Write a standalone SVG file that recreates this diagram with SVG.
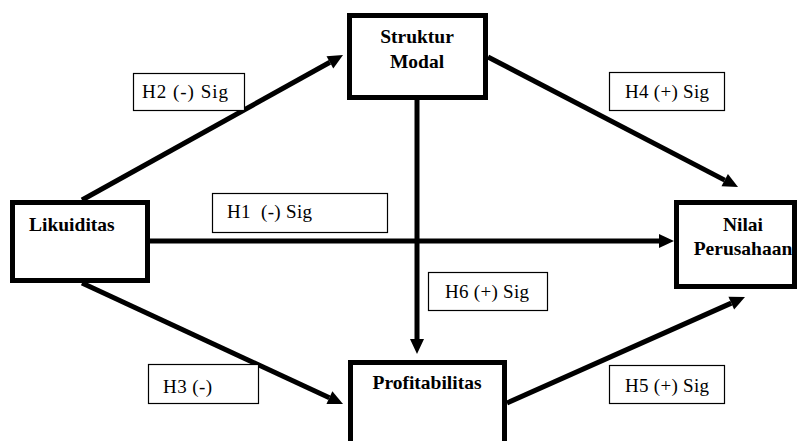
<svg xmlns="http://www.w3.org/2000/svg" width="802" height="441" viewBox="0 0 802 441">
  <style>
    .node { fill: #ffffff; stroke: #000000; stroke-width: 5; }
    .lbl { fill: #ffffff; stroke: #000000; stroke-width: 1.2; }
    .ntext { font-family: "Liberation Serif", "Times New Roman", "DejaVu Serif", serif; font-weight: bold; font-size: 19.5px; fill: #000000; }
    .ltext { font-family: "Liberation Serif", "Times New Roman", "DejaVu Serif", serif; font-size: 19px; fill: #000000; }
    .conn { stroke: #000000; stroke-width: 5; fill: none; marker-end: url(#arrow); }
  </style>
  <defs>
    <marker id="arrow" markerUnits="userSpaceOnUse" viewBox="0 -7 15 14" markerWidth="15" markerHeight="14" refX="0" refY="0" orient="auto" overflow="visible">
      <path d="M0,-7 L15,0 L0,7 Z" fill="#000000"/>
    </marker>
  </defs>
  <rect x="0" y="0" width="802" height="441" fill="#ffffff"/>
  <g id="connectors">
    <line class="conn" x1="82" y1="200" x2="329.9" y2="62.3"/>
    <line class="conn" x1="488" y1="57" x2="724.7" y2="180.1"/>
    <line class="conn" x1="150" y1="241" x2="659" y2="241"/>
    <line class="conn" x1="417" y1="100" x2="417" y2="339"/>
    <line class="conn" x1="82" y1="283" x2="329.4" y2="397.7"/>
    <line class="conn" x1="507" y1="403" x2="731.3" y2="303.1"/>
  </g>
  <g id="struktur-modal">
    <rect class="node" x="349.5" y="15.5" width="136" height="82"/>
    <text class="ntext" x="417" y="43" text-anchor="middle">Struktur</text>
    <text class="ntext" x="417" y="68" text-anchor="middle">Modal</text>
  </g>
  <g id="likuiditas">
    <rect class="node" x="12.5" y="202.5" width="135" height="78"/>
    <text class="ntext" x="29" y="231">Likuiditas</text>
  </g>
  <g id="nilai-perusahaan">
    <rect class="node" x="676.5" y="202.5" width="118" height="84"/>
    <text class="ntext" x="743" y="231" text-anchor="middle">Nilai</text>
    <text class="ntext" x="743" y="255" text-anchor="middle">Perusahaan</text>
  </g>
  <g id="profitabilitas">
    <rect class="node" x="350.5" y="362.5" width="154" height="100"/>
    <text class="ntext" x="427" y="389" text-anchor="middle">Profitabilitas</text>
  </g>
  <g id="label-h2">
    <rect class="lbl" x="133.5" y="73.5" width="111" height="37"/>
    <text class="ltext" x="142" y="98" textLength="86">H2 (-) Sig</text>
  </g>
  <g id="label-h1">
    <rect class="lbl" x="212.5" y="193.5" width="175" height="39"/>
    <text class="ltext" x="227" y="218" textLength="85" xml:space="preserve">H1  (-) Sig</text>
  </g>
  <g id="label-h6">
    <rect class="lbl" x="428.5" y="272.5" width="119" height="38"/>
    <text class="ltext" x="445" y="298" textLength="84">H6 (+) Sig</text>
  </g>
  <g id="label-h3">
    <rect class="lbl" x="148.5" y="364.5" width="110" height="39"/>
    <text class="ltext" x="163" y="393" textLength="49">H3 (-)</text>
  </g>
  <g id="label-h4">
    <rect class="lbl" x="609.5" y="72.5" width="115" height="38"/>
    <text class="ltext" x="625" y="98" textLength="84">H4 (+) Sig</text>
  </g>
  <g id="label-h5">
    <rect class="lbl" x="609.5" y="365.5" width="115" height="38"/>
    <text class="ltext" x="625" y="392" textLength="84">H5 (+) Sig</text>
  </g>
</svg>
